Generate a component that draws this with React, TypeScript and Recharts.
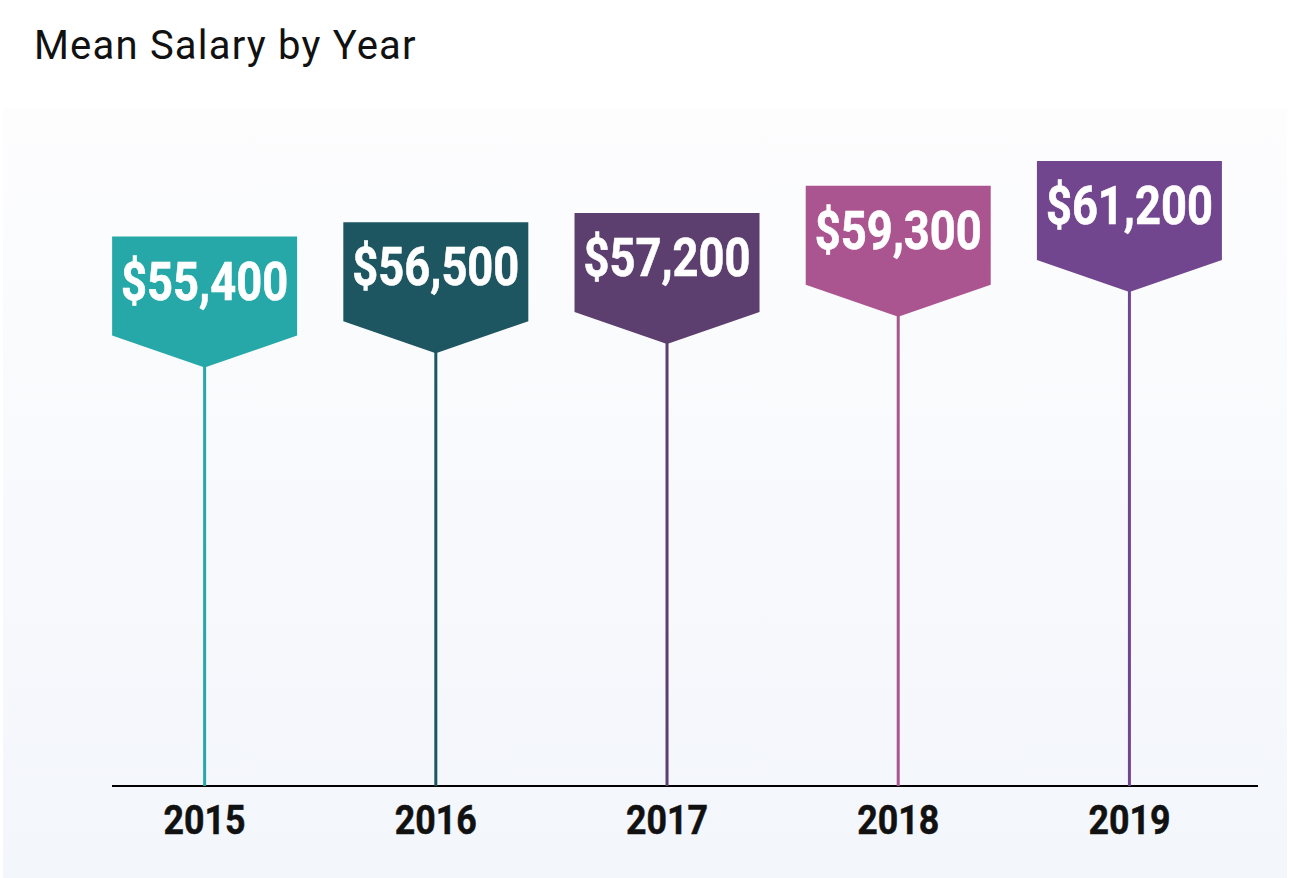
import * as React from 'react'
import { BarChart, Bar, XAxis, YAxis, Cell, Customized } from 'recharts'

const years = ['2015', '2016', '2017', '2018', '2019']
const meanSalary = [55400, 56500, 57200, 59300, 61200]
const flagColors = ['#26a8a8', '#1d5560', '#5c3f6e', '#ab5590', '#71468f']

const data = years.map((year, i) => ({ year, salary: meanSalary[i], color: flagColors[i] }))

const W = 1290
const H = 878
const BASE_Y = 786

const formatMoney = (v: number) => '$' + v.toLocaleString('en-US')

// Flag: a block with a downward point, and a stem running down to the baseline
const Pennant = (props: any) => {
  const { x, y, width, height, payload, fill } = props
  const cx = x + width / 2
  const boxH = 99
  const tip = 32
  const bottom = y + height
  const left = x
  const right = x + width
  const points = [
    `${left},${y}`,
    `${right},${y}`,
    `${right},${y + boxH}`,
    `${cx},${y + boxH + tip}`,
    `${left},${y + boxH}`,
  ].join(' ')
  return (
    <g>
      <line x1={cx} x2={cx} y1={y + boxH + tip - 2} y2={bottom} stroke={fill} strokeWidth={3} />
      <polygon points={points} fill={fill} />
      <text
        x={cx}
        y={y + 63}
        textAnchor="middle"
        fill="#ffffff"
        stroke="#ffffff"
        strokeWidth={0.6}
        fontFamily="Roboto, sans-serif"
        fontWeight={700}
        fontSize={53}
        textLength={167}
        lengthAdjust="spacingAndGlyphs"
      >
        {formatMoney(payload.salary)}
      </text>
    </g>
  )
}

const YearTick = (props: any) => {
  const { x, y, payload } = props
  return (
    <text
      x={x}
      y={y}
      dy={40}
      textAnchor="middle"
      fill="#111111"
      stroke="#111111"
      strokeWidth={0.5}
      fontFamily="Roboto, sans-serif"
      fontWeight={700}
      fontSize={40}
      textLength={82}
      lengthAdjust="spacingAndGlyphs"
    >
      {payload.value}
    </text>
  )
}

const BaseLine = () => <line x1={112} x2={1258} y1={BASE_Y} y2={BASE_Y} stroke="#000000" strokeWidth={2} />

export default function App() {
  return (
    <div style={{ position: 'absolute', left: 0, top: 0, width: W, height: H, background: '#ffffff', overflow: 'hidden' }}>
      <div
        style={{
          position: 'absolute',
          left: 3,
          top: 108,
          width: 1284,
          height: H - 108,
          background: 'linear-gradient(to bottom, #fdfdfe 0%, #f3f6fb 100%)',
        }}
      />
      <div
        style={{
          position: 'absolute',
          left: 34,
          top: 20,
          fontFamily: 'Roboto, sans-serif',
          fontSize: 40,
          letterSpacing: 1.2,
          color: '#111111',
          whiteSpace: 'nowrap',
          lineHeight: '52px',
        }}
      >
        Mean Salary by Year
      </div>
      <div style={{ position: 'absolute', left: 0, top: 0 }}>
        <BarChart
          width={W}
          height={H}
          data={data}
          margin={{ top: 161, right: 45, bottom: 0, left: 89 }}
          barCategoryGap="10%"
        >
          <XAxis dataKey="year" axisLine={false} tickLine={false} tick={<YearTick />} interval={0} height={H - BASE_Y} />
          <YAxis hide domain={[13200, 61200]} allowDataOverflow />
          <Bar dataKey="salary" shape={<Pennant />} isAnimationActive={false}>
            {data.map((d) => (
              <Cell key={d.year} fill={d.color} />
            ))}
          </Bar>
          <Customized component={BaseLine} />
        </BarChart>
      </div>
    </div>
  )
}
